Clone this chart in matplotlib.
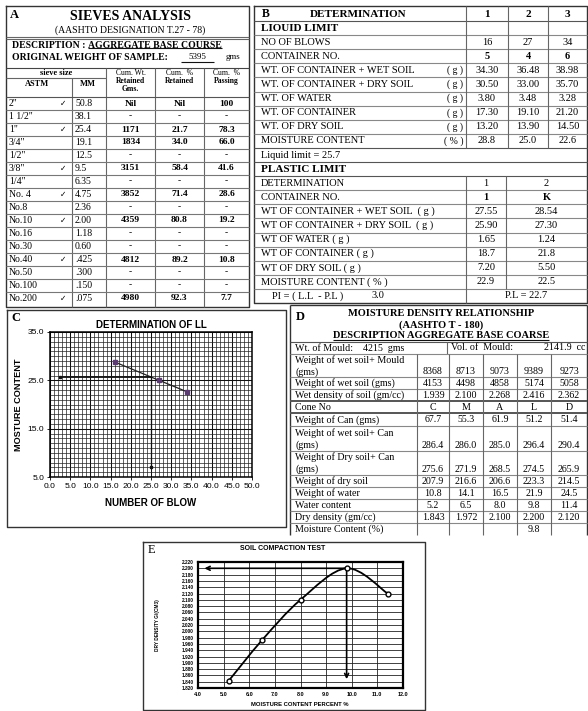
import numpy as np
import matplotlib
matplotlib.use('Agg')
import matplotlib.pyplot as plt
from matplotlib.path import Path
from matplotlib.patches import PathPatch

W, H = 588, 711
SERIF = ['Liberation Serif', 'DejaVu Serif']
SANS = ['Liberation Sans', 'DejaVu Sans']
NARROW = ['Liberation Sans Narrow', 'Liberation Sans', 'DejaVu Sans']
SYMBOL = ['DejaVu Sans']

# A - sieve analysis
sample_weight = 5395
sieve_astm = ['2"', '1 1/2"', '1"', '3/4"', '1/2"', '3/8"', '1/4"', 'No. 4',
              'No.8', 'No.10', 'No.16', 'No.30', 'No.40', 'No.50', 'No.100', 'No.200']
sieve_mm = ['50.8', '38.1', '25.4', '19.1', '12.5', '9.5', '6.35', '4.75',
            '2.36', '2.00', '1.18', '0.60', '.425', '.300', '.150', '.075']
sieve_used = [1, 0, 1, 0, 0, 1, 0, 1, 0, 1, 0, 0, 1, 0, 0, 1]
cum_weight = ['Nil', '-', '1171', '1834', '-', '3151', '-', '3852',
              '-', '4359', '-', '-', '4812', '-', '-', '4980']
cum_retained = ['Nil', '-', '21.7', '34.0', '-', '58.4', '-', '71.4',
                '-', '80.8', '-', '-', '89.2', '-', '-', '92.3']
cum_passing = ['100', '-', '78.3', '66.0', '-', '41.6', '-', '28.6',
               '-', '19.2', '-', '-', '10.8', '-', '-', '7.7']

# B - liquid limit / plastic limit
ll_blows = [16, 27, 34]
ll_container = ['5', '4', '6']
ll_wet = [34.30, 36.48, 38.98]
ll_dry = [30.50, 33.00, 35.70]
ll_water = [3.80, 3.48, 3.28]
ll_can = [17.30, 19.10, 21.20]
ll_drysoil = [13.20, 13.90, 14.50]
ll_moisture = [28.8, 25.0, 22.6]
liquid_limit = 25.7

pl_container = ['1', 'K']
pl_wet = [27.55, 28.54]
pl_dry = [25.90, 27.30]
pl_water = [1.65, 1.24]
pl_can = [18.7, 21.8]
pl_drysoil = [7.20, 5.50]
pl_moisture = [22.9, 22.5]
plastic_limit = 22.7
plasticity_index = 3.0

# D - moisture density relationship
mould_weight = 4215
mould_volume = 2141.9
wet_soil_mould = [8368, 8713, 9073, 9389, 9273]
wet_soil = [4153, 4498, 4858, 5174, 5058]
wet_density = [1.939, 2.100, 2.268, 2.416, 2.362]
cone_no = ['C', 'M', 'A', 'L', 'D']
can_weight = [67.7, 55.3, 61.9, 51.2, 51.4]
wet_soil_can = [286.4, 286.0, 285.0, 296.4, 290.4]
dry_soil_can = [275.6, 271.9, 268.5, 274.5, 265.9]
dry_soil = [207.9, 216.6, 206.6, 223.3, 214.5]
water_weight = [10.8, 14.1, 16.5, 21.9, 24.5]
water_content = [5.2, 6.5, 8.0, 9.8, 11.4]
dry_density = [1.843, 1.972, 2.100, 2.200, 2.120]
optimum_moisture = 9.8
max_dry_density = 2.200

fig = plt.figure(figsize=(W / 100, H / 100), dpi=100)
canvas = fig.add_axes([0, 0, 1, 1])
canvas.set_xlim(0, W)
canvas.set_ylim(H, 0)
canvas.axis('off')


def line(x0, y0, x1, y1, lw=0.8, color='#666'):
    canvas.plot([x0, x1], [y0, y1], color=color, lw=lw, solid_capstyle='butt')


def box(l, t, r, b, lw=1.0, color='#333'):
    canvas.plot([l, r, r, l, l], [t, t, b, b, t], color=color, lw=lw)


def txt(x, y, s, size=7.5, ha='left', bold=False, family=SERIF, **kw):
    return canvas.text(x, y, s, fontsize=size, ha=ha, va='center',
                       fontweight='bold' if bold else 'normal', family=family, **kw)


def underline(t, off=1.2, lw=0.8):
    bb = t.get_window_extent(renderer=fig.canvas.get_renderer())
    inv = canvas.transData.inverted()
    x0, y0 = inv.transform((bb.x0, bb.y0))
    x1, _ = inv.transform((bb.x1, bb.y0))
    line(x0, y0 - off, x1, y0 - off, lw=lw, color='#111')


def px_rect(l, t, r, b):
    return [l / W, 1 - b / H, (r - l) / W, (b - t) / H]


# ---------------- A ----------------
A_L, A_R, A_T, A_B = 6, 249, 6, 307
box(A_L, A_T, A_R, A_B)
txt(10, 15, 'A', size=9, bold=True)
txt(130, 16, 'SIEVES ANALYSIS', size=10, ha='center', bold=True)
txt(130, 30, '(AASHTO DESIGNATION T.27 - 78)', size=7, ha='center')
line(A_L, 37, A_R, 37)
line(A_L, 39, A_R, 39)
t = txt(12, 45, 'DESCRIPTION : ', size=7, bold=True)
bb = t.get_window_extent(renderer=fig.canvas.get_renderer())
x_after = canvas.transData.inverted().transform((bb.x1, bb.y0))[0]
underline(txt(x_after, 45, 'AGGREGATE BASE COURSE', size=7, bold=True))
txt(12, 57, 'ORIGINAL WEIGHT OF SAMPLE:', size=7, bold=True)
t = txt(197, 57, f'{sample_weight}', size=6.5, ha='center')
line(181, 61.5, 214, 61.5, color='#111')
txt(233, 57, 'gms', size=6.5, ha='center')
line(A_L, 68, A_R, 68, color='#444')

a_cols = [72, 106, 155, 204]
txt(56, 73, 'sieve size', size=6, ha='center', bold=True)
line(A_L, 78, 106, 78)
txt(37, 84, 'ASTM', size=6, ha='center', bold=True)
txt(88, 84, 'MM', size=6, ha='center', bold=True)
for cx, lines_ in [(130.5, ['Cum. Wt.', 'Retained', 'Gms.']),
                   (179.5, ['Cum.  %', 'Retained']),
                   (226.5, ['Cum.  %', 'Passing'])]:
    for k, s in enumerate(lines_):
        txt(cx, 73 + 8 * k, s, size=5.5, ha='center', bold=(k > 0))
line(a_cols[0], 78, a_cols[0], A_B)
for x in a_cols[1:]:
    line(x, 68, x, A_B)

a_row_h = 13
a_top = 97
for i in range(len(sieve_astm)):
    y = a_top + a_row_h * i
    line(A_L, y, A_R, y, color='#555' if i == 0 else '#777')
for i, name in enumerate(sieve_astm):
    y = a_top + a_row_h * (i + 0.5)
    txt(9, y, name, size=7)
    if sieve_used[i]:
        txt(63, y, '\u2713', size=5.5, ha='center', family=SYMBOL)
    txt(75, y, sieve_mm[i], size=7)
    for cx, vals in zip([130.5, 179.5, 226.5], [cum_weight, cum_retained, cum_passing]):
        txt(cx, y, vals[i], size=6.8, ha='center', bold=True)

# ---------------- B ----------------
B_L, B_R, B_T, B_B = 254, 587, 6, 303
box(B_L, B_T, B_R, B_B)
b_h = (B_B - 7) / 21


def by(i):
    return 7 + b_h * (i + 0.5)


b_cols = [466, 508, 548]
b_ctr = [487, 528, 567.5]
for i in range(1, 21):
    line(B_L, 7 + b_h * i, B_R, 7 + b_h * i, color='#555' if i in (1, 10, 11, 12) else '#888')
for x in b_cols:
    line(x, B_T, x, 7 + b_h * 10)
line(466, 7 + b_h * 12, 466, B_B)
line(506, 7 + b_h * 12, 506, 7 + b_h * 20)

txt(262, by(0), 'B', size=8.5, bold=True)
txt(358, by(0), 'DETERMINATION', size=8, ha='center', bold=True)
for cx, s in zip(b_ctr, ['1', '2', '3']):
    txt(cx, by(0), s, size=8, ha='center', bold=True)
txt(261, by(1), 'LIOUID LIMIT', size=8, bold=True)

liquid_rows = [
    ('NO OF BLOWS', '', ll_blows, '{:d}', False),
    ('CONTAINER NO.', '', ll_container, '{}', True),
    ('WT. OF CONTAINER + WET SOIL', '( g )', ll_wet, '{:.2f}', False),
    ('WT. OF CONTAINER + DRY SOIL', '( g )', ll_dry, '{:.2f}', False),
    ('WT. OF WATER', '( g )', ll_water, '{:.2f}', False),
    ('WT. OF CONTAINER', '( g )', ll_can, '{:.2f}', False),
    ('WT. OF DRY SOIL', '( g )', ll_drysoil, '{:.2f}', False),
    ('MOISTURE CONTENT', '( % )', ll_moisture, '{:.1f}', False),
]
for k, (label, unit, vals, fmt, bold) in enumerate(liquid_rows):
    y = by(k + 2)
    txt(261, y, label, size=7.5)
    if unit:
        txt(463, y, unit, size=7, ha='right')
    for cx, v in zip(b_ctr, vals):
        txt(cx, y, fmt.format(v), size=7.5, ha='center', bold=bold)
txt(261, by(10), f'Liquid limit = {liquid_limit}', size=7.5)
txt(261, by(11), 'PLASTIC LIMIT', size=8, bold=True)

p_ctr = [486, 546.5]
plastic_rows = [
    ('DETERMINATION', ['1', '2'], '{}', False),
    ('CONTAINER NO.', pl_container, '{}', True),
    ('WT OF CONTAINER + WET SOIL  ( g )', pl_wet, '{:.2f}', False),
    ('WT OF CONTAINER + DRY SOIL  ( g )', pl_dry, '{:.2f}', False),
    ('WT OF WATER ( g )', pl_water, '{:.2f}', False),
    ('WT OF CONTAINER ( g )', pl_can, '{:.1f}', False),
    ('WT OF DRY SOIL ( g )', pl_drysoil, '{:.2f}', False),
    ('MOISTURE CONTENT ( % )', pl_moisture, '{:.1f}', False),
]
for k, (label, vals, fmt, bold) in enumerate(plastic_rows):
    y = by(k + 12)
    txt(261, y, label, size=7.5)
    for cx, v in zip(p_ctr, vals):
        txt(cx, y, fmt.format(v), size=7.5, ha='center', bold=bold)
txt(272, by(20), 'PI = ( L.L  - P.L )', size=7.5)
txt(378, by(20), f'{plasticity_index:.1f}', size=7.5, ha='center')
txt(526, by(20), f'P.L = {plastic_limit}', size=7.5, ha='center')

# ---------------- C ----------------
box(7, 310, 286, 527)
txt(11, 318, 'C', size=9, bold=True)
ax_c = fig.add_axes(px_rect(50, 332, 252, 477))
ax_c.set_xlim(0, 50)
ax_c.set_ylim(5, 35)
ax_c.set_xticks(np.arange(0, 51, 5))
ax_c.set_xticklabels([f'{v:.1f}' for v in np.arange(0, 51, 5)])
ax_c.set_yticks([5, 15, 25, 35])
ax_c.set_yticklabels(['5.0', '15.0', '25.0', '35.0'])
ax_c.set_xticks(np.arange(0, 51, 1), minor=True)
ax_c.set_yticks(np.arange(5, 36, 1), minor=True)
ax_c.grid(which='minor', color='#222', lw=0.5)
ax_c.grid(which='major', color='#111', lw=0.75)
ax_c.tick_params(which='minor', length=0)
ax_c.tick_params(which='major', length=2, width=0.6, pad=2)
for lab in ax_c.get_xticklabels() + ax_c.get_yticklabels():
    lab.set_family(NARROW)
    lab.set_fontsize(6.1)
for sp in ax_c.spines.values():
    sp.set_linewidth(1.1)
ax_c.set_axisbelow(True)
ax_c.plot(ll_blows, ll_moisture, color='#222', lw=0.9, marker='s', ms=2.6,
          mfc='#5a3a70', mec='#5a3a70', zorder=3)
ax_c.plot([2.5, 25], [liquid_limit, liquid_limit], color='#111', lw=1.3,
          marker='s', ms=2, markevery=[0], zorder=3)
ax_c.plot([25, 25], [liquid_limit, 7.1], color='#111', lw=0.9,
          marker='s', ms=2, markevery=[1], zorder=3)
txt(151, 325, 'DETERMINATION OF LL', size=7, ha='center', bold=True, family=NARROW)
txt(151, 503, 'NUMBER OF BLOW', size=7, ha='center', bold=True, family=NARROW)
txt(19, 405, 'MOSTURE CONTENT', size=6.6, ha='center', bold=True, family=NARROW,
    rotation=90)

# ---------------- D ----------------
D_L, D_R, D_T, D_B = 290, 587, 305, 535
line(D_L, D_T, D_R, D_T, lw=1.0, color='#333')
line(D_L, D_T, D_L, D_B, lw=1.0, color='#333')
line(D_R, D_T, D_R, D_B, lw=1.0, color='#333')
txt(296, 317, 'D', size=9, bold=True)
txt(441, 313, 'MOISTURE DENSITY RELATIONSHIP', size=7.5, ha='center', bold=True)
txt(441, 325, '(AASHTO T - 180)', size=7.5, ha='center', bold=True)
underline(txt(441, 336, 'DESCRIPTION AGGREGATE BASE COARSE', size=7.5, ha='center',
              bold=True), off=1.0)
line(D_L, 342, D_R, 342, color='#555')
txt(295, 348, f'Wt. of Mould:    {mould_weight}  gms', size=7.2)
txt(451, 348, 'Vol. of  Mould:', size=7.2)
txt(585, 348, f'{mould_volume}  cc', size=7.2, ha='right')
line(447, 342, 447, 354)

d_cols = [417, 449, 483, 517, 551]
d_ctr = [433, 466, 500, 534, 569]
d_lines = [354, 377, 389, 401, 413, 426, 451, 475, 487, 499, 511, 523]
for y in d_lines:
    line(D_L, y, D_R, y, color='#555' if y in (401, 413) else '#888',
         lw=1.4 if y in (401, 413) else 0.8)
for x in d_cols:
    line(x, 354, x, D_B)

d_rows = [
    (['Weight of wet soil+ Mould', '(gms)'], 366, wet_soil_mould, '{:d}'),
    (['Weight of wet soil (gms)'], 383, wet_soil, '{:d}'),
    (['Wet density of soil (gm/cc)'], 395, wet_density, '{:.3f}'),
    (['Cone No'], 407, cone_no, '{}'),
    (['Weight of Can (gms)'], 420, can_weight, '{:.1f}'),
    (['Weight of wet soil+ Can', '(gms)'], 439, wet_soil_can, '{:.1f}'),
    (['Weight of Dry soil+ Can', '(gms)'], 463, dry_soil_can, '{:.1f}'),
    (['Weight of dry soil'], 481, dry_soil, '{:.1f}'),
    (['Weight of water'], 493, water_weight, '{:.1f}'),
    (['Water content'], 505, water_content, '{:.1f}'),
    (['Dry density (gm/cc)'], 517, dry_density, '{:.3f}'),
]
for labels, yc, vals, fmt in d_rows:
    if len(labels) == 2:
        txt(295, yc - 5.5, labels[0], size=7.2)
        txt(295, yc + 6, labels[1], size=7.2)
        vy = yc + 6
    else:
        txt(295, yc, labels[0], size=7.2)
        vy = yc
    for cx, v in zip(d_ctr, vals):
        txt(cx, vy, fmt.format(v), size=7.2, ha='center')
txt(295, 529, 'Moisture Content (%)', size=7.2)
txt(d_ctr[water_content.index(optimum_moisture)], 529, f'{optimum_moisture}', size=7.2,
    ha='center')

# ---------------- E ----------------
box(143, 542, 425, 710)
txt(148, 550, 'E', size=9)
ax_e = fig.add_axes(px_rect(198, 562, 403, 688))
ax_e.set_xlim(4, 12)
ax_e.set_ylim(1.82, 2.22)
xt = np.arange(4, 12.01, 1)
yt = np.round(np.arange(1.82, 2.2201, 0.02), 3)
ax_e.set_xticks(xt)
ax_e.set_xticklabels([f'{v:.1f}' for v in xt])
ax_e.set_yticks(yt)
ax_e.set_yticklabels([f'{v:.3f}' for v in yt])
ax_e.grid(color='#222', lw=0.6)
ax_e.tick_params(length=0, pad=3)
for lab in ax_e.get_xticklabels():
    lab.set_fontsize(4)
    lab.set_fontweight('bold')
    lab.set_family(SANS)
for lab in ax_e.get_yticklabels():
    lab.set_fontsize(3.4)
    lab.set_fontweight('bold')
    lab.set_family(SANS)
for sp in ax_e.spines.values():
    sp.set_linewidth(1.6)

# smooth compaction curve through the test points (cubic Bezier segments)
pts = np.column_stack([water_content, dry_density])
ext = np.vstack([pts[0], pts, pts[-1]])
verts = [tuple(pts[0])]
codes = [Path.MOVETO]
for i in range(len(pts) - 1):
    p0, p1, p2, p3 = ext[i], ext[i + 1], ext[i + 2], ext[i + 3]
    verts += [tuple(p1 + (p2 - p0) / 6), tuple(p2 - (p3 - p1) / 6), tuple(p2)]
    codes += [Path.CURVE4] * 3
ax_e.add_patch(PathPatch(Path(verts, codes), fill=False, lw=1.3, color='k', zorder=3))
ax_e.plot(water_content, dry_density, ls='none', marker='o', ms=3.5, mfc='white',
          mec='k', mew=1.0, zorder=4)
ax_e.annotate('', xy=(4.25, max_dry_density), xytext=(optimum_moisture, max_dry_density),
              arrowprops=dict(arrowstyle='->', lw=1.2, color='k', shrinkA=0, shrinkB=0,
                              mutation_scale=7))
ax_e.annotate('', xy=(optimum_moisture, 1.848), xytext=(optimum_moisture, max_dry_density),
              arrowprops=dict(arrowstyle='->', lw=1.2, color='k', shrinkA=0, shrinkB=0,
                              mutation_scale=7))
txt(283, 548, 'SOIL COMPACTION TEST', size=5, ha='center', bold=True, family=SANS)
txt(300, 705, 'MOISTURE CONTENT PERCENT %', size=4.2, ha='center', bold=True, family=SANS)
txt(158, 625, 'DRY DENSITY G/(CM3)', size=3.4, ha='center', bold=True, family=SANS,
    rotation=90)

fig.savefig('out.png', dpi=100, facecolor='white')
